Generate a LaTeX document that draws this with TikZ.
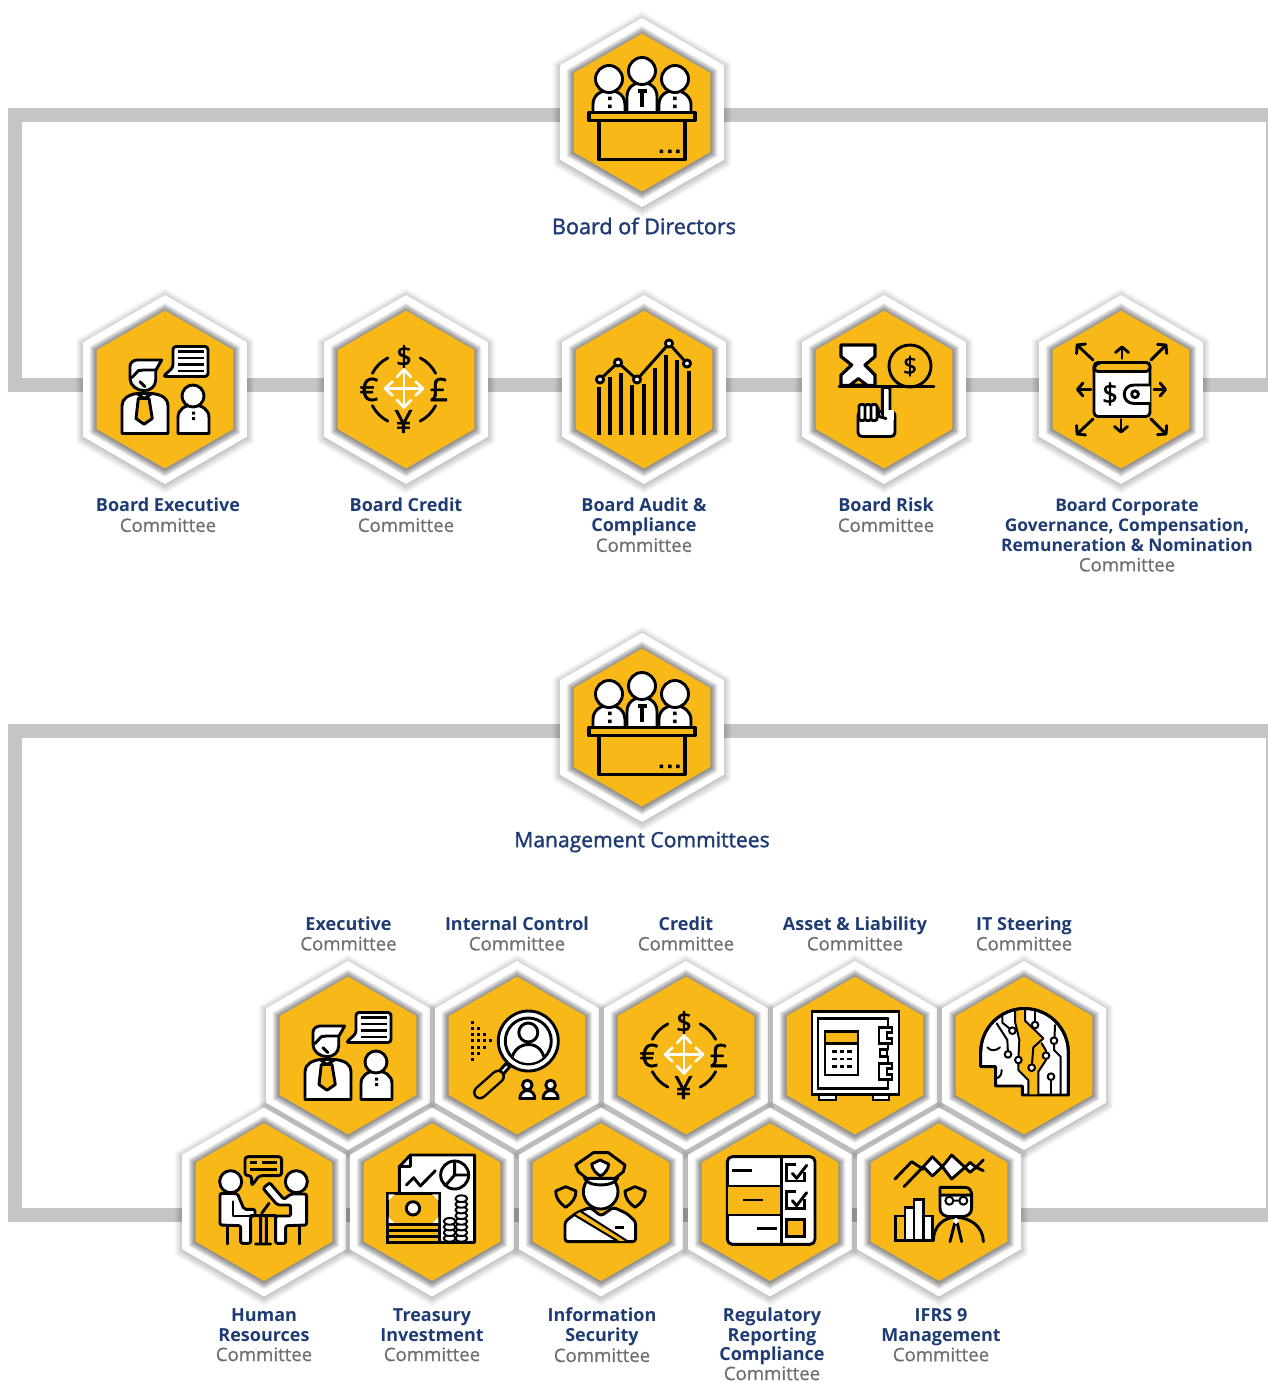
\documentclass[tikz,border=0pt]{standalone}
\usepackage{fontspec}
\setmainfont{Open Sans}
\newfontfamily\symf[FakeBold=1.6]{Open Sans}
\newfontfamily\semif[FakeBold=1.6]{Open Sans}
\newfontfamily\midf[FakeBold=0.5]{Open Sans}
\usetikzlibrary{arrows.meta}
\definecolor{hexy}{HTML}{F7B818}
\definecolor{bandc}{HTML}{C4C5C7}
\definecolor{navy}{HTML}{1F3B73}
\definecolor{greyt}{HTML}{6D6E71}
\tikzset{
  ln/.style={black,line width=2.9pt,line join=round,line cap=round},
  thn/.style={black,line width=2pt,line join=round,line cap=round},
  wf/.style={ln,fill=white},
  yf/.style={ln,fill=hexy},
  band/.style={bandc,line width=14pt,line join=miter},
  edge/.style={bandc,line width=2pt},
  sym/.style={inner sep=0pt,text=black},
  lbl/.style={anchor=north,inner sep=0pt,align=center,font=\fontsize{18}{20}\selectfont},
  ttl/.style={inner sep=0pt,text=navy,font=\fontsize{21.6}{24}\semif},
  zm/.style={scale=0.33333}
}
\newcommand\hexshape[1]{(0,-#1) -- ({.866*#1},{-.5*#1}) -- ({.866*#1},{.5*#1}) -- (0,#1) -- ({-.866*#1},{.5*#1}) -- ({-.866*#1},{-.5*#1}) -- cycle}
\newcommand\hexcell[4]{%
  \coordinate (#1) at (#2,#3);
  \begin{scope}[shift={(#1)}]
    \foreach \k in {1,...,10}{\fill[black,opacity=.022,shift={(0,1.5)}] \hexshape{\the\numexpr93+\k\relax};}
    \fill[white] \hexshape{94.5};
    \foreach \k in {1,...,8}{\fill[black,opacity=.065,shift={(0,.5)}] \hexshape{\the\numexpr79+\k\relax};}
    \fill[hexy] \hexshape{79};
    \begin{scope}[name prefix=#1-] #4 \end{scope}
  \end{scope}}
\newcommand\nm[1]{\textcolor{navy}{\bfseries #1}}
\newcommand\cm{\textcolor{greyt}{\fontsize{18.6}{20}\midf Committee}}

% ---------- icons
\newcommand\icBoard{%
  \draw[wf] (-49,0) -- (-49,-8) .. controls (-49,-17) and (-42,-22) .. (-33,-22) .. controls (-22,-22) and (-17,-15) .. (-17,-8) -- (-17,0) -- cycle;
  \draw[wf] (17,0) -- (17,-8) .. controls (17,-17) and (24,-22) .. (33,-22) .. controls (42,-22) and (49,-15) .. (49,-8) -- (49,0) -- cycle;
  \draw[wf] (-33,-33.5) circle (13.5);
  \draw[wf] (33,-33.5) circle (13.5);
  \draw[wf] (-15,0) -- (-15,-16) .. controls (-15,-25) and (-8,-30) .. (0,-30) .. controls (8,-30) and (15,-25) .. (15,-16) -- (15,0) -- cycle;
  \draw[wf] (0,-41.5) circle (13.5);
  \draw[black,line width=3.6pt] (-4.5,-21.5) -- (4.5,-21.5) (0,-23) -- (0,-6);
  \fill (-34,-16) rectangle (-30.5,-12.5) (-34,-8) rectangle (-30.5,-4.5);
  \fill (31,-16) rectangle (34.5,-12.5) (31,-8) rectangle (34.5,-4.5);
  \draw[yf,line width=3.3pt] (-53,0) rectangle (53,8);
  \draw[yf,line width=3.3pt] (-43,8) rectangle (43,47);
  \fill (17.5,37) rectangle (21,40.5) (26,37) rectangle (29.5,40.5) (34,37) rectangle (37.5,40.5);
}
\newcommand\icTalk{%
  \draw[wf] (-43,44) -- (-43,16) .. controls (-43,9) and (-36,5) .. (-28,4) -- (-13,4) .. controls (-3,5) and (3,9) .. (3,16) -- (3,44) -- cycle;
  \draw[wf] (-35,-23.5) .. controls (-35,-27) and (-31,-29.5) .. (-28,-29.5) -- (-3.3,-29.5) -- (-9.3,-19) -- (-9.3,-9.5) .. controls (-9.3,-3) and (-15,1.2) .. (-20.7,1.2) .. controls (-28,1.2) and (-35,-4) .. (-35,-11) -- cycle;
  \draw[ln] (-9.3,-19.5) -- (-21.7,-19.5) -- (-26.7,-18.8) -- (-33,-12);
  \draw[ln] (-25,-7.8) -- (-20,-2.8);
  \draw[yf] (-26.7,9) -- (-16,9) -- (-12.7,29) -- (-21,34.7) -- (-29,29) -- cycle;
  \draw[ln] (-28,4) -- (-21,9) -- (-13,4);
  \draw[wf,rounded corners=3pt] (8,-43) -- (43,-43) -- (43,-13) -- (-2,-13) -- (8,-22) -- cycle;
  \draw[ln,line cap=butt] (13,-38) -- (39,-38) (13,-31.5) -- (39,-31.5) (13,-25) -- (39,-25) (13,-18.5) -- (39,-18.5);
  \draw[wf] (13,44) -- (13,28) .. controls (13,20) and (20,15.5) .. (28,15.5) .. controls (37,15.5) and (44,20) .. (44,28) -- (44,44) -- cycle;
  \draw[wf] (28,6.5) circle (11);
  \fill (27,22) rectangle (30,25) (27,27.5) rectangle (30,30.5);
}
\newcommand\icMoney{%
  \foreach \a in {27,117,207,297}{\draw[ln] ([shift={(-2,0)}]\a:35.5) arc[start angle=\a,end angle=\a+36,radius=35.5];}
  \node[sym,font=\fontsize{28}{28}\symf] (s1) at (-2,-33) {\$};
  \node[sym,font=\fontsize{32}{32}\symf] (s2) at (-37,0) {€};
  \node[sym,font=\fontsize{32}{32}\symf] (s3) at (33,0) {£};
  \node[sym,font=\fontsize{32}{32}\symf] (s4) at (-2.5,32) {¥};
  \begin{scope}[shift={(-2,-1)},white,line width=2.6pt,line cap=round,line join=round]
    \draw (-18,0) -- (18,0) (0,-18) -- (0,18);
    \draw (-11.5,-7) -- (-19,0) -- (-11.5,7) (11.5,-7) -- (19,0) -- (11.5,7) (-7,-11.5) -- (0,-19) -- (7,-11.5) (-7,11.5) -- (0,19) -- (7,11.5);
  \end{scope}
}
\newcommand\icChart{%
  \foreach \x/\t in {-45/-3,-34/-13,-23/-17,-12/-4.5,0/-5.5,11/-22,22/-34.5,33/-29.5,45/-18.5}{\fill (\x-2,\t) rectangle (\x+2,45.5);}
  \draw[ln] (-44,-10) -- (-26,-27) -- (-7,-10) -- (25,-46) -- (43,-26);
  \foreach \x/\y in {-44/-10,-26/-27,-7/-10,25/-46,43/-26}{\draw[wf] (\x,\y) circle (3.6);}
}
\newcommand\icRisk{%
  \draw[wf,line width=3.2pt] (-43,-44.5) -- (-9,-44.5) -- (-9,-33) -- (-19,-24.5) -- (-9,-14.5) -- (-9,-4) -- (-43,-4) -- (-43,-14.5) -- (-32.3,-24.5) -- (-43,-33) -- cycle;
  \draw[yf] (-34,-4.5) -- (-25.7,-11) -- (-17,-4.5) -- cycle;
  \draw[yf] (26,-23.5) circle (21);
  \node[sym,font=\fontsize{25}{25}\symf] (s1) at (26,-23.5) {\$};
  \draw[ln] (-45,-3) -- (50,-3);
  \draw[wf,rounded corners=4pt] (-26,22) rectangle (11,47);
  \draw[wf,rounded corners=2pt] (-25,15) rectangle (-19,31) (-19,15) rectangle (-13,31) (-13,15) rectangle (-7,31);
  \draw[wf,rounded corners=1.5pt] (-1.7,-2) -- (6,-2) -- (6,26) -- (-1.7,26) -- cycle;
  \fill[white] (-0.4,20) rectangle (9.5,30);
  \draw[ln] (-6,18) -- (-5,27) -- (2,29);
}
\newcommand\icWallet{%
  \draw[wf,rounded corners=4pt] (-27,-27) rectangle (29,27);
  \draw[yf,rounded corners=4pt] (-27,-18) -- (-27,-23) -- (-23,-27) -- (29,-27) -- (29,-18) -- cycle;
  \draw[wf] (29,-4.5) -- (13,-4.5) .. controls (0,-4.5) and (0,14) .. (13,14) -- (29,14);
  \draw[ln] (14,4.7) circle (3.4);
  \node[sym,font=\fontsize{28}{28}\symf] (s1) at (-11,4.5) {\$};
  \foreach \a/\b/\c/\d in {1/-31/1/-44,0/30/0/44,-30/0/-45/0,33/0/46/0,-28/-29.5/-45/-45.5,30/-29.5/46/-45.5,-28/29.5/-45/45.5,30/29.5/46/45.5}{
    \draw[ln,-{Straight Barb[length=5.5pt,width=13pt,round]}] (\a,\b) -- (\c,\d);}
}
\newcommand\icSearch{%
  \foreach \x/\a/\b in {0/-18/18,6/-12/12,12/-6/6,18/0/0}{\foreach \y in {\a,\the\numexpr\a+6,\the\numexpr\a+12,\the\numexpr\a+18,\the\numexpr\a+24,\the\numexpr\a+30,\the\numexpr\a+36}{\ifnum\y>\b\else\fill ({-44.7+\x-1.5},{-15+\y-1.5}) rectangle ++(3,3);\fi}}
  \draw[ln,fill=white] (-11,8) -- (-18,16) -- (-14,19) -- (-7,11) -- cycle;
  \draw[black,line width=14pt,line cap=round] (-19,21) -- (-37,37);
  \draw[hexy,line width=9pt,line cap=round] (-19,21) -- (-37,37);
  \draw[wf] (11.3,-14.5) circle (30);
  \draw[wf] (11.3,-14.5) circle (23);
  \begin{scope}
    \clip (11.3,-14.5) circle (22);
    \draw[wf] (-6,10) .. controls (-6,-5) and (3,-11) .. (11.3,-11) .. controls (20,-11) and (28,-5) .. (28,10) -- cycle;
    \draw[wf] (11.3,-23) circle (9.5);
  \end{scope}
  \foreach \x in {10.3,33.6}{
    \draw[wf] ({\x-7.5},43) .. controls ({\x-7.5},38) and ({\x-4},35) .. (\x,35) .. controls ({\x+4},35) and ({\x+7.5},38) .. ({\x+7.5},43) -- cycle;
    \draw[wf] (\x,29.5) circle (4.8);}
}
\newcommand\icSafe{%
  \draw[wf,line join=miter] (-43,-44) rectangle (44,39);
  \draw[wf,line join=miter] (33,-37) -- (-37,-37) -- (-37,33) -- (33,33);
  \draw[ln] (33,-37) -- (33,-28) (33,-12) -- (33,-6) (33,1) -- (33,8) (33,24) -- (33,33);
  \draw[wf,line join=miter] (-30,-24) rectangle (3,19.5);
  \draw[yf,line join=miter] (-30,-24) rectangle (3,-12);
  \foreach \y in {-4,3.5,11}{\foreach \x in {-20.7,-13,-5.6}{\fill ({\x-2.2},{\y-1.2}) rectangle ++(4.4,2.6);}}
  \draw[wf,line join=miter] (37,-28) -- (24,-28) -- (24,-12) -- (37,-12) -- (37,-17) -- (32,-17) -- (32,-23) -- (37,-23) -- cycle;
  \draw[wf,line join=miter] (37,8) -- (24,8) -- (24,24) -- (37,24) -- (37,19) -- (32,19) -- (32,13) -- (37,13) -- cycle;
  \draw[wf,line join=miter] (25,-6) rectangle (32,1);
  \draw[wf,line join=miter] (-36,39) rectangle (-19,44.5);
  \draw[wf,line join=miter] (18,39) rectangle (34,44.5);
}
\newcommand\icAI{%
  \begin{scope}[zm,shift={(-762,-286.5)}]
    \draw[wf] (895,405) -- (895,277) arc[start angle=0,end angle=-180,radius=131.5] -- (632,320) -- (677,320) -- (677,378) -- (757,378) -- (757,405) -- cycle;
    \fill[hexy] (735,152) -- (765,152) -- (765,182) -- (820,235) -- (815,250) -- (828,272) -- (828,300) -- (805,335) -- (805,403) -- (775,403) -- (775,360) -- (745,330) -- (748,240) -- (735,185) -- cycle;
    \draw[ln] (895,405) -- (895,277) arc[start angle=0,end angle=-180,radius=131.5];
    \draw[thn] (652,262) .. controls (662,275) and (680,272) .. (690,262);
    \draw[thn] (695,330) .. controls (695,345) and (690,350) .. (680,355);
    \draw[thn] (697,160) -- (697,188) -- (727,212);
    \draw[thn] (680,190) -- (712,240) -- (714,283);
    \draw[thn] (735,152) -- (735,185) -- (748,240) -- (745,300) -- (745,330) -- (775,360) -- (775,405);
    \draw[thn] (765,150) -- (765,182) -- (820,235) -- (790,262) -- (785,323);
    \draw[thn] (795,150) -- (795,195);
    \draw[thn] (855,195) -- (852,270) -- (872,290) -- (872,405);
    \draw[thn] (815,250) -- (828,272) -- (828,300) -- (805,335) -- (805,405);
    \draw[thn] (843,350) -- (843,405);
    \foreach \x/\y in {727/212,714/283,745/300,795/195,852/242,828/287,785/323,843/350}{\draw[thn,fill=white] (\x,\y) circle (10);}
  \end{scope}
}
\newcommand\icMeet{%
  \begin{scope}[zm,shift={(-265,-276)}]
    \draw[ln] (155,347) -- (155,402) (372,347) -- (372,402);
    \draw[wf,rounded corners=2pt] (133,345) -- (133,250) -- (185,250) -- (205,298) -- (238,298) -- (238,318) -- (225,318) -- (225,400) -- (195,400) -- (195,347) -- cycle;
    \draw[ln] (172,275) -- (172,318) -- (225,318);
    \draw[wf] (165,215) circle (33);
    \draw[ln] (225,317) -- (300,317) (255,317) -- (255,400) (272,317) -- (272,400) (240,402) -- (285,402) (258,310) -- (280,280);
    \draw[wf,rounded corners=2pt] (393,345) -- (393,252) -- (345,252) -- (325,268) -- (282,218) -- (262,235) -- (305,285) -- (345,285) -- (345,318) -- (300,318) -- (300,400) -- (330,400) -- (330,347) -- cycle;
    \draw[wf] (362,215) circle (33);
    \draw[yf,rounded corners=3pt] (208,140) -- (318,140) -- (318,197) -- (250,197) -- (228,228) -- (228,197) -- (208,197) -- cycle;
    \draw[ln,line cap=butt] (222,158) -- (245,158) (258,158) -- (303,158) (222,178) -- (303,178);
  \end{scope}
}
\newcommand\icTreasury{%
  \begin{scope}[zm,shift={(-770,-276)}]
    \draw[wf] (705,135) -- (898,135) -- (898,397) -- (672,397) -- (672,170) -- cycle;
    \draw[ln] (705,135) -- (705,170) -- (672,170);
    \draw[ln] (693,225) -- (715,203) -- (735,228) -- (780,182);
    \draw[wf] (838,195) circle (42);
    \draw[ln] (838,153) -- (838,195) -- (880,195) (838,195) -- (810,227);
    \foreach \y in {385,368,351,334,317,300,283,266}{\draw[thn,fill=white] (858,\y) ellipse (18 and 10);}
    \foreach \y in {385,368,351,334}{\draw[thn,fill=white] (823,\y) ellipse (18 and 10);}
    \draw[yf,line join=miter] (637,250) rectangle (792,343);
    \draw[wf] (713,295) circle (20);
    \foreach \x/\y/\u/\v in {637/250/1/1,792/250/-1/1,637/343/1/-1,792/343/-1/-1}{\fill[white] (\x+3*\u,\y+3*\v) -- ++(18*\u,0) -- ++(-18*\u,18*\v) -- cycle;}
    \draw[yf,line join=miter] (637,343) rectangle (792,397);
    \draw[ln] (637,362) -- (792,362) (637,380) -- (792,380);
  \end{scope}
}
\newcommand\icPolice{%
  \begin{scope}[zm,shift={(-258,-276)}]
    \foreach \d in {0,208}{\draw[yf,shift={(\d,0)}] (152,230) -- (122,243) .. controls (122,265) and (135,280) .. (152,292) .. controls (170,280) and (183,265) .. (183,243) -- cycle;}
    \draw[wf,rounded corners=3pt] (150,395) -- (150,335) -- (185,308) -- (225,292) -- (258,318) -- (295,292) -- (335,310) -- (362,335) -- (362,395) -- cycle;
    \fill[hexy] (180,316) -- (197,304) -- (335,392) -- (308,393) -- cycle;
    \draw[thn] (180,316) -- (308,393) (197,304) -- (335,392);
    \draw[ln,line cap=butt] (300,352) -- (327,352);
    \draw[wf] (257,245) circle (52);
    \draw[wf] (208,203) .. controls (215,232) and (300,232) .. (308,203) -- cycle;
    \draw[yf] (235,128) -- (280,128) -- (330,165) -- (325,185) -- (300,205) -- (215,205) -- (190,185) -- (182,165) -- cycle;
    \draw[wf] (255,150) -- (230,162) .. controls (232,178) and (242,190) .. (257,198) .. controls (270,190) and (280,178) .. (281,162) -- cycle;
  \end{scope}
}
\newcommand\icCheck{%
  \begin{scope}[zm,shift={(-765,-276)}]
    \draw[wf,rounded corners=5pt] (637,140) rectangle (900,403);
    \fill[hexy] (640,228) rectangle (800,315);
    \draw[ln,line cap=butt] (800,140) -- (800,403) (637,228) -- (800,228) (637,315) -- (800,315);
    \draw[ln,line cap=butt] (652,182) -- (710,182) (685,270) -- (743,270) (727,355) -- (785,355);
    \foreach \y in {163,245}{
      \draw[ln,line join=miter,line cap=butt] (868,\y+22) -- (868,\y+50) -- (815,\y+50) -- (815,\y) -- (843,\y);
      \draw[ln] (832,\y+27) -- (845,\y+42) -- (875,\y+3);}
    \draw[yf,line join=miter] (815,328) rectangle (868,380);
  \end{scope}
}
\newcommand\icIfrs{%
  \begin{scope}[zm,shift={(-267,-276)}]
    \draw[wf] (220,170) -- (247,140) -- (277,170) -- (247,198) -- cycle;
    \draw[wf] (277,170) -- (305,135) -- (345,172) -- (305,207) -- cycle;
    \draw[wf] (345,172) -- (360,157) -- (378,172) -- (360,187) -- cycle;
    \draw[ln] (135,207) -- (185,155) -- (220,178) (162,230) -- (220,170) (378,172) -- (400,150) (378,172) -- (400,182);
    \draw[yf,line join=miter] (137,318) rectangle (165,392);
    \draw[wf,line join=miter] (165,292) rectangle (192,392);
    \draw[wf,line join=miter] (192,268) rectangle (220,392);
    \draw[wf,line join=miter] (220,318) rectangle (247,392);
    \draw[ln] (250,392) .. controls (250,350) and (280,322) .. (317,322) .. controls (360,322) and (400,350) .. (400,395);
    \draw[ln] (300,395) -- (314,340) (335,395) -- (322,340);
    \fill[white] (318,322) -- (328,332) -- (318,342) -- (308,332) -- cycle;
    \draw[wf] (270,255) -- (365,255) -- (365,295) .. controls (365,312) and (350,320) .. (335,320) -- (300,320) .. controls (282,320) and (270,310) .. (270,295) -- cycle;
    \draw[yf] (270,232) -- (345,232) .. controls (358,232) and (365,242) .. (365,255) -- (270,255) -- cycle;
    \draw[thn] (298,272) circle (12) (340,272) circle (12) (310,272) -- (328,272);
  \end{scope}
}
\begin{document}
\begin{tikzpicture}[x=1pt,y=-1pt]
\useasboundingbox (0,0) rectangle (1268,1382);
\fill[white] (0,0) rectangle (1268,1382);
% ---------- bands
\coordinate (a1) at (1268,115); \coordinate (a2) at (15,115); \coordinate (a3) at (15,385); \coordinate (a4) at (1268,385);
\coordinate (a5) at (1267,115);  \coordinate (a6) at (1267,385);
\coordinate (b1) at (1268,731); \coordinate (b2) at (15,731); \coordinate (b3) at (15,1215); \coordinate (b4) at (1268,1215);
\coordinate (b5) at (1267,731);  \coordinate (b6) at (1267,1215);
\draw[edge] (a5) -- (a6);
\draw[edge] (b5) -- (b6);
\draw[band] (a1) -- (a2) -- (a3) -- (a4);
\draw[band] (b1) -- (b2) -- (b3) -- (b4);
% ---------- hexagons
\hexcell{bod}{642}{112.5}{\icBoard}
\hexcell{bexec}{165}{389.5}{\icTalk}
\hexcell{bcred}{406}{389.5}{\icMoney}
\hexcell{baud}{644}{389.5}{\icChart}
\hexcell{brisk}{884}{389.5}{\icRisk}
\hexcell{bcorp}{1121}{389.5}{\icWallet}
\hexcell{mgmt}{642}{727.5}{\icBoard}
\hexcell{mexec}{348}{1055.5}{\icTalk}
\hexcell{mint}{517}{1055.5}{\icSearch}
\hexcell{mcred}{686}{1055.5}{\icMoney}
\hexcell{masset}{855}{1055.5}{\icSafe}
\hexcell{mit}{1024}{1055.5}{\icAI}
\hexcell{mhr}{264}{1202}{\icMeet}
\hexcell{mtre}{432}{1202}{\icTreasury}
\hexcell{minf}{601}{1202}{\icPolice}
\hexcell{mreg}{770}{1202}{\icCheck}
\hexcell{mifrs}{939}{1202}{\icIfrs}
% ---------- labels
\node[ttl] (tbod) at (644,226) {Board of Directors};
\node[ttl,font=\fontsize{21.1}{24}\semif] (tmgmt) at (642,842) {Management Committees};
\node[lbl] (l1) at (168,498) {\nm{Board Executive}\\\cm};
\node[lbl] (l2) at (406,498) {\nm{Board Credit}\\\cm};
\node[lbl] (l3) at (644,498) {\nm{Board Audit \&}\\\nm{Compliance}\\\cm};
\node[lbl] (l4) at (886,498) {\nm{Board Risk}\\\cm};
\node[lbl,font=\fontsize{17.4}{20}\selectfont] (l5) at (1127,498) {\nm{Board Corporate}\\\nm{Governance, Compensation,}\\\nm{Remuneration \& Nomination}\\\cm};
\node[lbl] (l6) at (348.5,916.5) {\nm{Executive}\\\cm};
\node[lbl] (l7) at (517,916.5) {\nm{Internal Control}\\\cm};
\node[lbl] (l8) at (686,916.5) {\nm{Credit}\\\cm};
\node[lbl] (l9) at (855,916.5) {\nm{Asset \& Liability}\\\cm};
\node[lbl] (l10) at (1024,916.5) {\nm{IT Steering}\\\cm};
\node[lbl] (l11) at (264,1308) {\nm{Human}\\\nm{Resources}\\\cm};
\node[lbl] (l12) at (432,1308) {\nm{Treasury}\\\nm{Investment}\\\cm};
\node[lbl] (l13) at (602,1308) {\nm{Information}\\\nm{Security}\\\cm};
\node[lbl,font=\fontsize{18}{19.4}\selectfont] (l14) at (772,1308) {\nm{Regulatory}\\\nm{Reporting}\\\nm{Compliance}\\\cm};
\node[lbl] (l15) at (941,1308) {\nm{IFRS 9}\\\nm{Management}\\\cm};
\end{tikzpicture}
\end{document}
